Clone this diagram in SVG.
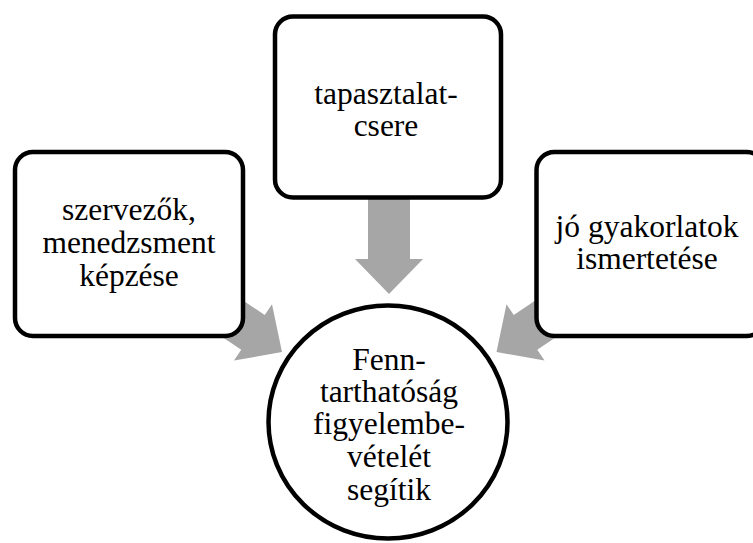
<svg xmlns="http://www.w3.org/2000/svg" width="753" height="543" viewBox="0 0 753 543">
<defs>
<style>
.box{fill:#fff;stroke:#000;stroke-width:4.5}
.arrow{fill:#A6A6A6;stroke:none}
text{font-family:"Liberation Serif",Tinos,"Times New Roman","DejaVu Serif",serif;font-size:31.5px;fill:#000;text-anchor:middle}
</style>
<polygon id="arr" points="0,0 -35,-34 -35,-21 -100,-21 -100,21 -35,21 -35,34"/>
</defs>
<rect width="753" height="543" fill="#fff"/>
<g id="connectors">
<use href="#arr" class="arrow" transform="translate(389,294) rotate(90)"/>
<use href="#arr" class="arrow" transform="translate(282,352) rotate(34)"/>
<use href="#arr" class="arrow" transform="translate(496.5,352) rotate(146)"/>
</g>
<g id="node-top">
<rect class="box" x="275" y="16.5" width="226" height="181" rx="18"/>
<text x="386" y="104">tapasztalat-</text>
<text x="386" y="136">csere</text>
</g>
<g id="node-left">
<rect class="box" x="15" y="152" width="228" height="184" rx="18"/>
<text x="129" y="220">szervezők,</text>
<text x="129" y="253">menedzsment</text>
<text x="129" y="286">képzése</text>
</g>
<g id="node-right">
<rect class="box" x="536.5" y="152" width="228" height="184" rx="18"/>
<text x="647" y="237">jó gyakorlatok</text>
<text x="647" y="269">ismertetése</text>
</g>
<g id="node-center">
<ellipse class="box" cx="388" cy="422" rx="119.5" ry="116.5"/>
<text x="389" y="370">Fenn-</text>
<text x="389" y="402">tarthatóság</text>
<text x="389" y="434">figyelembe-</text>
<text x="389" y="467">vételét</text>
<text x="389" y="500">segítik</text>
</g>
</svg>
